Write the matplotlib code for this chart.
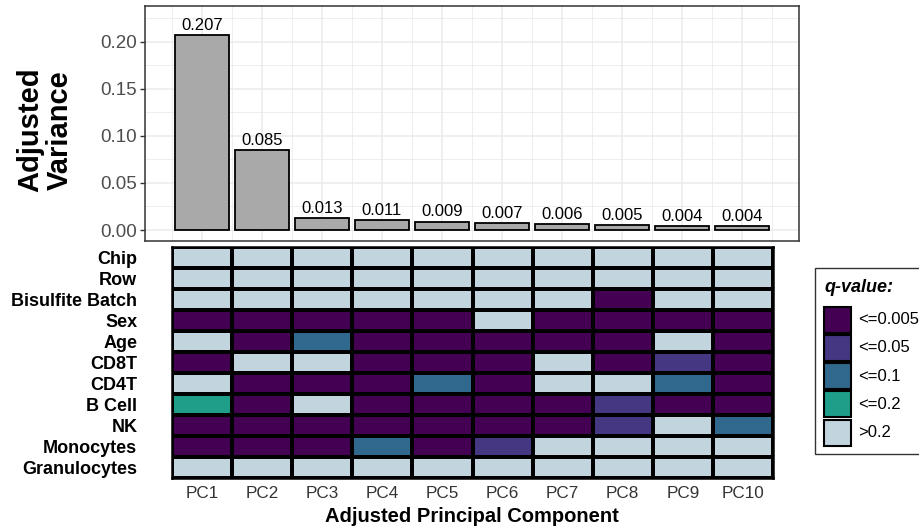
import numpy as np
import matplotlib.pyplot as plt
from matplotlib.colors import ListedColormap, BoundaryNorm
from matplotlib.patches import Rectangle

plt.rcParams['font.family'] = ['Liberation Sans', 'DejaVu Sans']

pcs = ['PC1', 'PC2', 'PC3', 'PC4', 'PC5', 'PC6', 'PC7', 'PC8', 'PC9', 'PC10']
variance = [0.207, 0.085, 0.013, 0.011, 0.009, 0.007, 0.006, 0.005, 0.004, 0.004]

rows = ['Chip', 'Row', 'Bisulfite Batch', 'Sex', 'Age', 'CD8T', 'CD4T',
        'B Cell', 'NK', 'Monocytes', 'Granulocytes']
q_levels = ['<=0.005', '<=0.05', '<=0.1', '<=0.2', '>0.2']
q_colors = ['#440154', '#453781', '#31688E', '#1F9E89', '#C2D5DF']
# index into q_levels, one row per covariate, one column per PC
q_codes = [
    [4, 4, 4, 4, 4, 4, 4, 4, 4, 4],
    [4, 4, 4, 4, 4, 4, 4, 4, 4, 4],
    [4, 4, 4, 4, 4, 4, 4, 0, 4, 4],
    [0, 0, 0, 0, 0, 4, 0, 0, 0, 0],
    [4, 0, 2, 0, 0, 0, 0, 0, 4, 0],
    [0, 4, 4, 0, 0, 0, 4, 0, 1, 0],
    [4, 0, 0, 0, 2, 0, 4, 4, 2, 0],
    [3, 0, 4, 0, 0, 0, 0, 1, 0, 0],
    [0, 0, 0, 0, 0, 0, 0, 1, 4, 2],
    [0, 0, 0, 2, 0, 1, 4, 4, 4, 4],
    [4, 4, 4, 4, 4, 4, 4, 4, 4, 4],
]

W, H = 920, 529


def box(l, t, r, b):
    # pixel box -> figure fraction rect
    return [l / W, 1 - b / H, (r - l) / W, (b - t) / H]


fig = plt.figure(figsize=(W / 100, H / 100), dpi=100)
ax_bar = fig.add_axes(box(145, 5.5, 799, 241))
ax_hm = fig.add_axes(box(172, 247, 773, 478))

# top: variance bars
x = np.arange(len(pcs)) + 0.5
ax_bar.bar(x, variance, width=0.9, color='#A9A9A9', edgecolor='black',
           linewidth=1.3, zorder=3)
for xi, v in zip(x, variance):
    ax_bar.annotate(f'{v:.3f}', (xi, v), xytext=(0, 1.5), textcoords='offset points',
                    ha='center', va='bottom', fontsize=12, color='black')
ax_bar.set_xlim(-0.45, 10.45)
ax_bar.set_ylim(-0.0117, 0.2388)
ax_bar.set_xticks(x)
ax_bar.set_xticks(np.arange(0, 11), minor=True)
ax_bar.set_yticks(np.arange(0, 0.21, 0.05))
ax_bar.set_yticklabels([f'{t:.2f}' for t in np.arange(0, 0.21, 0.05)])
ax_bar.set_yticks(np.arange(0.025, 0.23, 0.05), minor=True)
ax_bar.grid(which='major', color='#EBEBEB', linewidth=1.1)
ax_bar.grid(which='minor', color='#EBEBEB', linewidth=0.6)
ax_bar.set_axisbelow(True)
ax_bar.tick_params(axis='x', which='both', length=0, labelbottom=False)
ax_bar.tick_params(axis='y', which='major', length=3.5, width=1, color='#333333',
                   labelsize=13.5, labelcolor='#4D4D4D', pad=2)
ax_bar.tick_params(axis='y', which='minor', length=0)
for s in ax_bar.spines.values():
    s.set_color('#333333')
    s.set_linewidth(1.1)

fig.text(45 / W, 1 - 130 / H, 'Adjusted\nVariance', rotation=90, ha='center',
         va='center', fontsize=21, fontweight='bold', linespacing=1.05,
         multialignment='center')

# bottom: q-value heatmap
cmap = ListedColormap(q_colors)
norm = BoundaryNorm(np.arange(-0.5, len(q_levels)), len(q_levels))
ax_hm.pcolormesh(np.array(q_codes), cmap=cmap, norm=norm,
                 edgecolors='black', linewidth=1.6)
ax_hm.set_xlim(0, len(pcs))
ax_hm.set_ylim(len(rows), 0)
ax_hm.set_xticks(np.arange(len(pcs)) + 0.5, pcs)
ax_hm.set_yticks(np.arange(len(rows)) + 0.5, rows)
ax_hm.tick_params(axis='x', length=0, labelsize=12.3, labelcolor='#333333', pad=6)
ax_hm.tick_params(axis='y', length=0, labelsize=13, pad=25)
for lab in ax_hm.get_yticklabels():
    lab.set_fontweight('bold')
for s in ax_hm.spines.values():
    s.set_color('black')
    s.set_linewidth(1.8)

fig.text(472 / W, 1 - 517 / H, 'Adjusted Principal Component', ha='center',
         va='center', fontsize=14.5, fontweight='bold')

# legend drawn by hand so it can run off the right edge like the original
fig.add_artist(Rectangle((815 / W, 1 - 454 / H), 130 / W, 186 / H,
                         transform=fig.transFigure, facecolor='white',
                         edgecolor='#333333', linewidth=1))
fig.text(824 / W, 1 - 288 / H, 'q-value:', ha='left', va='center', fontsize=13,
         fontweight='bold', fontstyle='italic')
for i, (lev, col) in enumerate(zip(q_levels, q_colors)):
    top = 306.5 + 28.3 * i
    fig.add_artist(Rectangle((824 / W, 1 - (top + 26) / H), 27 / W, 26 / H,
                             transform=fig.transFigure, facecolor=col,
                             edgecolor='black', linewidth=1.5))
    fig.text(858 / W, 1 - (top + 13) / H, lev, ha='left', va='center',
             fontsize=12)

fig.savefig('out.png', dpi=100)
